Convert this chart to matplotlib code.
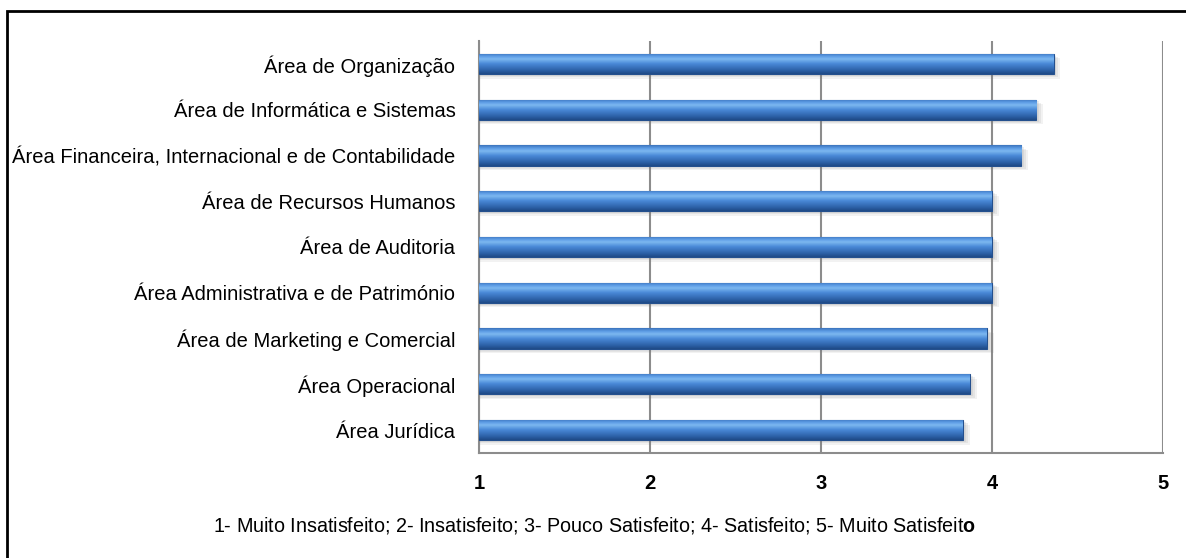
import matplotlib.pyplot as plt
import numpy as np
from matplotlib.colors import LinearSegmentedColormap
from matplotlib.patches import Rectangle

areas = [
    'Área de Organização',
    'Área de Informática e Sistemas',
    'Área Financeira, Internacional e de Contabilidade',
    'Área de Recursos Humanos',
    'Área de Auditoria',
    'Área Administrativa e de Património',
    'Área de Marketing e Comercial',
    'Área Operacional',
    'Área Jurídica',
]
scores = [4.36, 4.26, 4.17, 4.00, 4.00, 4.00, 3.97, 3.87, 3.83]
xticks = [1, 2, 3, 4, 5]
note = '1- Muito Insatisfeito; 2- Insatisfeito; 3- Pouco Satisfeito; 4- Satisfeito; 5- Muito Satisfeit'

plt.rcParams['font.family'] = ['Liberation Sans', 'DejaVu Sans']
plt.rcParams['mathtext.fontset'] = 'custom'
plt.rcParams['mathtext.rm'] = 'Liberation Sans'
plt.rcParams['mathtext.bf'] = 'Liberation Sans:bold'

fig = plt.figure(figsize=(11.86, 5.58), dpi=100)
ax = fig.add_axes([0.4039, 0.1882, 0.9806 - 0.4039, 0.9265 - 0.1882])

# outer frame (runs past right/bottom edges like the original crop)
fig.patches.append(Rectangle((7 / 1186, -0.05), 1.2, 1 - 11 / 558 + 0.05,
                             transform=fig.transFigure, fill=False,
                             edgecolor='black', linewidth=2))

ypos = np.arange(len(areas))[::-1]
h = 0.44

# bar gradient: bottom dark -> mid blue -> light streak -> top edge
grad_cmap = LinearSegmentedColormap.from_list('bar', [
    (0.0, '#1f4a86'), (0.18, '#2d62a8'), (0.5, '#4a8ad8'),
    (0.72, '#7db8f0'), (0.85, '#5d9de6'), (1.0, '#3c74bd')])
grad = np.linspace(0, 1, 64).reshape(-1, 1)

# soft shadow under the bars
for k, a in [(0.10, 0.10), (0.07, 0.12), (0.04, 0.12)]:
    ax.barh(ypos - k, np.array(scores) - 1 + k * 0.4, left=1, height=h,
            color='#808080', alpha=a, linewidth=0, zorder=2)

bars = ax.barh(ypos, np.array(scores) - 1, left=1, height=h,
               color='#3f7ecb', edgecolor='#24508e', linewidth=0.8, zorder=3)
for b in bars:
    x0, y0 = b.get_x(), b.get_y()
    im = ax.imshow(grad, cmap=grad_cmap, aspect='auto', origin='lower',
                   extent=(x0, x0 + b.get_width(), y0, y0 + b.get_height()),
                   zorder=3.5, interpolation='bilinear')
    im.set_clip_path(b)

ax.set_xlim(1, 5)
ax.set_ylim(-0.5, len(areas) - 0.5)
ax.set_xticks(xticks)
ax.set_xticklabels([str(v) for v in xticks], fontsize=14.5, fontweight='bold')
ax.set_yticks(ypos)
ax.set_yticklabels(areas, fontsize=14.5)
ax.tick_params(axis='x', length=0, pad=15)
ax.tick_params(axis='y', length=0, pad=17)
ax.xaxis.grid(True, color='#8c8c8c', linewidth=1.5, zorder=0)
ax.set_axisbelow(True)
for s in ['top', 'right']:
    ax.spines[s].set_visible(False)
for s in ['left', 'bottom']:
    ax.spines[s].set_color('#8c8c8c')
    ax.spines[s].set_linewidth(1.5)

# footnote, last letter in bold
fig.text(213 / 1186, 1 - 531 / 558, note + r'$\mathbf{o}$', fontsize=14.2,
         ha='left', va='baseline')

fig.savefig('out.png', dpi=100)
